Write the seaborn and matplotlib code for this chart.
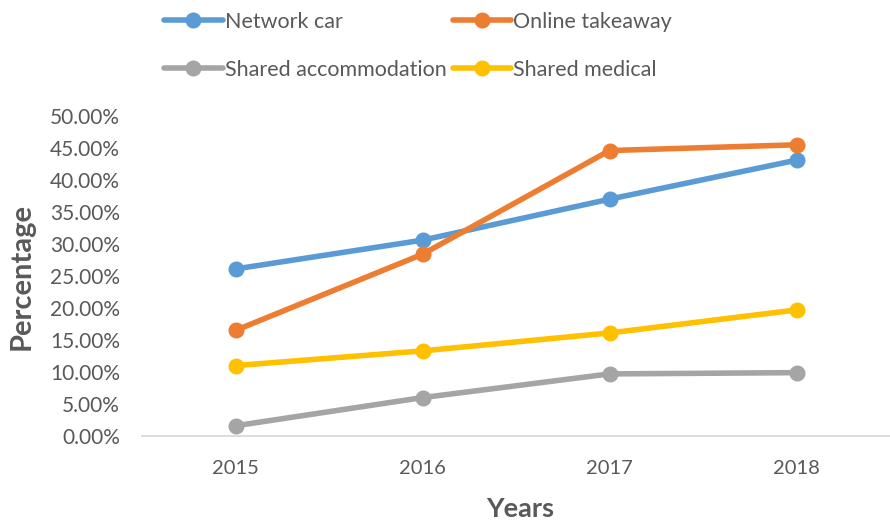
"""
Sharing economy usage share by sector, 2015-2018
"""
import pandas as pd
import seaborn as sns
from matplotlib import pyplot as plt
from matplotlib.ticker import PercentFormatter

years = ['2015', '2016', '2017', '2018']
network_car = [0.261, 0.306, 0.370, 0.431]
online_takeaway = [0.165, 0.284, 0.446, 0.455]
shared_accommodation = [0.016, 0.060, 0.097, 0.099]
shared_medical = [0.110, 0.133, 0.161, 0.197]

series_names = ['Network car', 'Online takeaway', 'Shared accommodation', 'Shared medical']
colors = ['#5B9BD5', '#ED7D31', '#A5A5A5', '#FFC000']

frames = []
for name, vals in zip(series_names, [network_car, online_takeaway, shared_accommodation, shared_medical]):
    frames.append(pd.DataFrame({'year': years, 'value': vals, 'series': name}))
df = pd.concat(frames, ignore_index=True)

sns.set_style('white')
plt.rcParams['font.family'] = ['Lato', 'DejaVu Sans']
grey = '#595959'

fig = plt.figure(figsize=(8.9, 5.23), dpi=100)
ax = fig.add_axes([142 / 890, 87 / 523, 748 / 890, 320 / 523])

sns.pointplot(
    data=df, x='year', y='value', hue='series', order=years, hue_order=series_names,
    palette=colors, markers='o', markersize=8.5, linewidth=4, dodge=False,
    errorbar=None, ax=ax,
)
for art in ax.lines + ax.collections:
    art.set_clip_on(False)

ax.set_xlim(-0.5, 3.5)
ax.set_ylim(0, 0.5)
ax.yaxis.set_major_formatter(PercentFormatter(1.0, decimals=2))
ax.set_yticks([i * 0.05 for i in range(11)])

for side in ['top', 'right', 'left']:
    ax.spines[side].set_visible(False)
ax.spines['bottom'].set_color('#d9d9d9')
ax.spines['bottom'].set_linewidth(1.3)

ax.set_xticks([-0.5, 0.5, 1.5, 2.5, 3.5], minor=True)
ax.tick_params(axis='x', which='minor', length=6, width=1.3, color='#d9d9d9', direction='out')
ax.tick_params(axis='x', which='major', length=0, pad=17, labelsize=14.5, labelcolor=grey)
ax.tick_params(axis='y', length=0, pad=16, labelsize=15, labelcolor=grey)

ax.set_xlabel('Years', fontsize=19.5, fontweight='bold', color=grey)
ax.set_ylabel('Percentage', fontsize=21, fontweight='bold', color=grey, labelpad=11)
ax.xaxis.set_label_coords(0.505, -0.19)

handles, labels = ax.get_legend_handles_labels()
ax.get_legend().remove()
lookup = dict(zip(labels, handles))
order = ['Network car', 'Shared accommodation', 'Online takeaway', 'Shared medical']
fig.legend(
    [lookup[n] for n in order], order, ncol=2, loc='upper left',
    bbox_to_anchor=(145 / 890, 1.015), frameon=False, fontsize=15.5,
    labelcolor=grey, handlelength=2.7, handletextpad=0.1, columnspacing=0.3,
    labelspacing=1.3,
)

fig.savefig('out.png', dpi=100)
